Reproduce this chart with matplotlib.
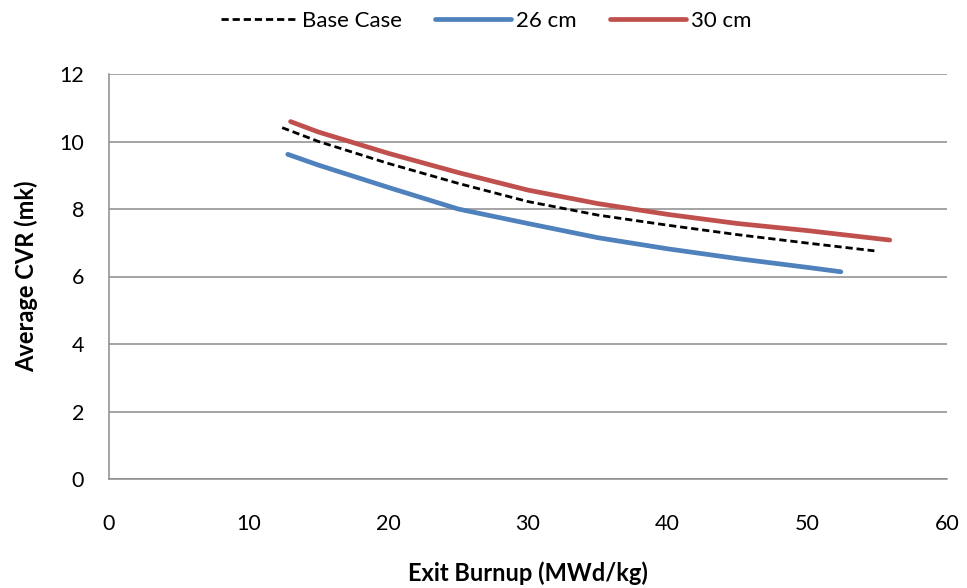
import matplotlib
matplotlib.use("Agg")
import matplotlib.pyplot as plt

# Data
base_x = [12.4, 15, 20, 25, 30, 35, 40, 45, 50, 54.8]
base_y = [10.41, 10.0, 9.35, 8.76, 8.22, 7.82, 7.52, 7.24, 6.99, 6.76]
cm26_x = [12.8, 15, 20, 25, 30, 35, 40, 45, 50, 52.4]
cm26_y = [9.62, 9.30, 8.64, 8.0, 7.57, 7.15, 6.82, 6.53, 6.27, 6.14]
cm30_x = [13.0, 15, 20, 25, 30, 35, 40, 45, 50, 55.9]
cm30_y = [10.59, 10.28, 9.65, 9.08, 8.56, 8.16, 7.84, 7.57, 7.36, 7.08]

x_ticks = [0, 10, 20, 30, 40, 50, 60]
y_ticks = [0, 2, 4, 6, 8, 10, 12]

plt.rcParams['font.family'] = ['Lato', 'DejaVu Sans']

fig = plt.figure(figsize=(9.67, 5.88), dpi=100)
ax = fig.add_axes([109/967, 1-479/588, (947-109)/967, (479-74)/588])

ax.plot(base_x, base_y, color='black', lw=2.0, linestyle=(0, (2.6, 1.4)), label='Base Case')
ax.plot(cm26_x, cm26_y, color='#4F81BD', lw=3.4, solid_capstyle='round', label='26 cm')
ax.plot(cm30_x, cm30_y, color='#C0504D', lw=3.4, solid_capstyle='round', label='30 cm')

ax.set_xlim(0, 60)
ax.set_ylim(0, 12)
ax.set_xticks(x_ticks)
ax.set_yticks(y_ticks)
ax.grid(axis='y', color='#8c8c8c', lw=1.1)
ax.set_axisbelow(True)
for s in ['top', 'right']:
    ax.spines[s].set_visible(False)
for s in ['left', 'bottom']:
    ax.spines[s].set_color('#8c8c8c')
    ax.spines[s].set_linewidth(1.1)
ax.tick_params(axis='both', length=0, labelsize=15.5)
ax.tick_params(axis='x', pad=25)
ax.tick_params(axis='y', pad=18)

ax.set_xlabel('Exit Burnup (MWd/kg)', fontsize=17, fontweight='bold', labelpad=20)
ax.set_ylabel('Average CVR (mk)', fontsize=17, fontweight='bold', labelpad=15)

fig.legend(loc='upper center', bbox_to_anchor=(0.503, 1.015), ncol=3, frameon=False,
           fontsize=16, handlelength=3.4, columnspacing=1.5, handletextpad=0.25)

fig.savefig('out.png', dpi=100)
